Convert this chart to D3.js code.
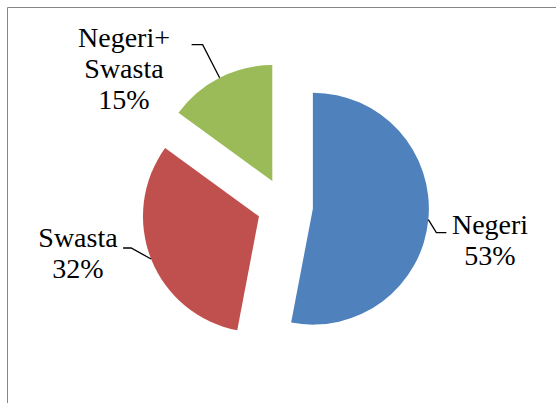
<!DOCTYPE html>
<html>
<head>
  <meta charset="UTF-8">
  <title>Negeri / Swasta Pie</title>
  <script src="https://d3js.org/d3.v7.min.js"></script>
</head>
<body style="margin:0; background:#fff;">
  <script>
// data
const categories = ["Negeri", "Swasta", "Negeri+ Swasta"];
const values = [53, 32, 15];
const labelLines = [["Negeri", "53%"], ["Swasta", "32%"], ["Negeri+", "Swasta", "15%"]];
const colors = ["#4F81BD", "#C0504D", "#9BBB59"];
const fonts = ["Times New Roman", "Liberation Serif", "Tinos", "FreeSerif"];

const W = 556, H = 403;
const cx = 285, cy = 206, radius = 116, explode = 28;

// label layout (elbow offset from arc point, horizontal end, text centre point)
const layout = [
  { elbow: [8, 13], endDx: 10, tx: 490, ty: 234 },
  { elbow: [-20, -11], endDx: -8, tx: 78, ty: 247 },
  { elbow: [-17, -33], endDx: -11, tx: 124, ty: 47 }
];

const svg = d3.select("body").append("svg")
  .attr("width", W)
  .attr("height", H);

// labels first, so text is laid out before the rest of the chart
const labelG = svg.append("g");
arcs0 = labelLines.forEach((lines, i) => {
  lines.forEach((s, j) => {
    labelG.append("text")
      .attr("x", layout[i].tx)
      .attr("y", layout[i].ty + j * 31)
      .attr("text-anchor", "middle")
      .style("font-family", fonts.map(f => `"${f}"`).join(", ") + ", serif")
      .style("font-size", "28px")
      .text(s);
  });
});

// chart frame
svg.append("path")
  .attr("d", `M7.5,${H} V7.5 H${W}`)
  .attr("fill", "none")
  .attr("stroke", "#868686")
  .attr("stroke-width", 1);

const pie = d3.pie().sort(null).startAngle(0).endAngle(2 * Math.PI);
const arcs = pie(values);
const arc = d3.arc().innerRadius(0).outerRadius(radius);

function offset(d, dist) {
  const a = (d.startAngle + d.endAngle) / 2;
  return [Math.sin(a) * dist, -Math.cos(a) * dist];
}

const g = svg.append("g").attr("transform", `translate(${cx},${cy})`);

g.selectAll("path.slice")
  .data(arcs)
  .join("path")
  .attr("class", "slice")
  .attr("d", arc)
  .attr("fill", (d, i) => colors[i])
  .attr("transform", d => {
    const o = offset(d, explode);
    return `translate(${o[0]},${o[1]})`;
  });

// leader lines
g.selectAll("path.leader")
  .data(arcs)
  .join("path")
  .attr("class", "leader")
  .attr("fill", "none")
  .attr("stroke", "#000")
  .attr("stroke-width", 1.3)
  .attr("d", (d, i) => {
    const o = offset(d, explode);
    const p = offset(d, radius);
    const x0 = o[0] + p[0], y0 = o[1] + p[1];
    const x1 = x0 + layout[i].elbow[0], y1 = y0 + layout[i].elbow[1];
    return `M${x0},${y0} L${x1},${y1} L${x1 + layout[i].endDx},${y1}`;
  });
  </script>
</body>
</html>
